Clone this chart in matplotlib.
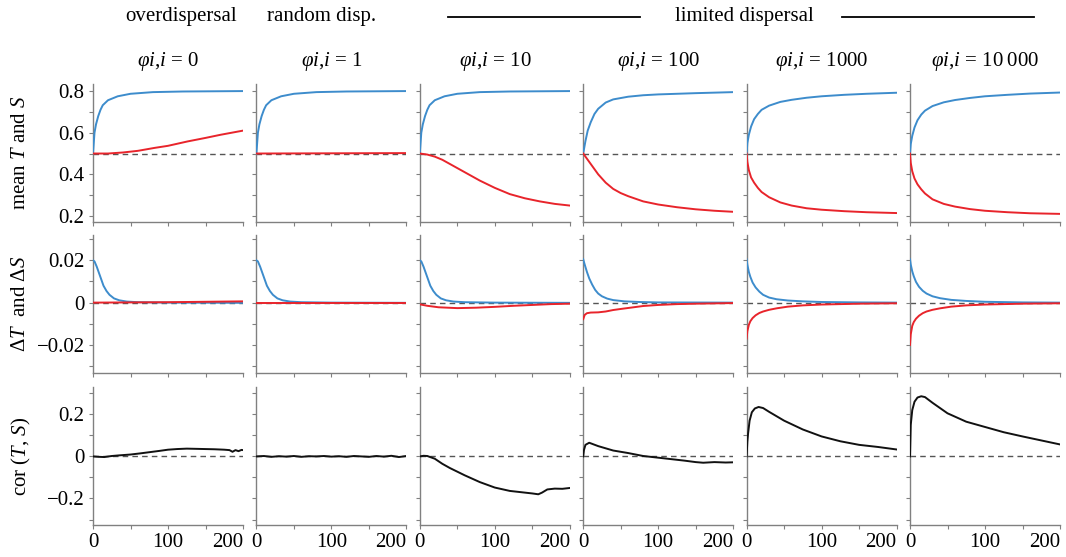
import matplotlib
matplotlib.use("Agg")
import matplotlib.pyplot as plt
from matplotlib.lines import Line2D
import numpy as np

plt.rcParams['font.family'] = ['Liberation Serif', 'DejaVu Serif']
plt.rcParams['mathtext.fontset'] = 'custom'
plt.rcParams['mathtext.rm'] = 'Liberation Serif'
plt.rcParams['mathtext.it'] = 'Liberation Serif:italic'
plt.rcParams['mathtext.bf'] = 'Liberation Serif:bold'

# ---------------- data ----------------
group_labels = ["overdispersal", "random disp.", "limited dispersal"]
phi_values = ["0", "1", "10", "100", "1000", "10\u2009000"]
row_labels = [r"mean $T$ and $S$", r"$\Delta T$  and $\Delta S$", r"cor ($T$, $S$)"]

# Row 1: mean T (blue) and mean S (red)
tT_fast = [0, 2, 4, 7, 10, 13, 20, 33, 50, 80, 120, 200]
T_fast = [0.5, 0.6, 0.64, 0.68, 0.71, 0.732, 0.756, 0.775, 0.787, 0.795, 0.798, 0.8]
tT_100 = [0, 3, 6, 10, 15, 20, 30, 40, 60, 80, 100, 150, 200]
T_100 = [0.5, 0.56, 0.61, 0.65, 0.69, 0.715, 0.745, 0.76, 0.773, 0.78, 0.784, 0.79, 0.795]
tT_slow = [0, 1, 3, 6, 10, 15, 20, 30, 45, 60, 80, 100, 130, 160, 200]
T_1000 = [0.5, 0.55, 0.59, 0.63, 0.665, 0.69, 0.71, 0.73, 0.748, 0.758, 0.768, 0.775, 0.782, 0.787, 0.792]
T_10000 = [0.5, 0.545, 0.585, 0.625, 0.66, 0.687, 0.706, 0.728, 0.746, 0.757, 0.767, 0.775, 0.782, 0.788, 0.793]

tS_0 = [0, 20, 40, 60, 82, 100, 126, 150, 170, 200]
S_0 = [0.5, 0.5, 0.505, 0.513, 0.527, 0.537, 0.558, 0.575, 0.59, 0.61]
tS_1 = [0, 100, 200]
S_1 = [0.5, 0.501, 0.502]
tS_10 = [0, 10, 20, 30, 40, 60, 80, 100, 120, 140, 160, 180, 200]
S_10 = [0.5, 0.495, 0.485, 0.47, 0.45, 0.41, 0.37, 0.335, 0.305, 0.285, 0.27, 0.258, 0.25]
tS_100 = [0, 5, 10, 15, 20, 30, 40, 50, 60, 80, 100, 125, 150, 175, 200]
S_100 = [0.5, 0.475, 0.45, 0.425, 0.40, 0.36, 0.33, 0.31, 0.295, 0.27, 0.255, 0.242, 0.232, 0.225, 0.22]
tS_slow = [0, 1, 3, 6, 10, 15, 20, 30, 45, 60, 80, 100, 130, 160, 200]
S_1000 = [0.5, 0.46, 0.42, 0.385, 0.36, 0.335, 0.315, 0.29, 0.265, 0.25, 0.237, 0.23, 0.223, 0.218, 0.214]
S_10000 = [0.5, 0.455, 0.415, 0.38, 0.352, 0.328, 0.308, 0.28, 0.258, 0.245, 0.233, 0.225, 0.218, 0.213, 0.21]

# Row 2: Delta T (blue) and Delta S (red)
tdT_a = [0, 2, 5, 8, 11, 14, 18, 22, 28, 35, 45, 60, 100, 200]
dT_a = [0.020, 0.0195, 0.017, 0.014, 0.011, 0.008, 0.0055, 0.0037, 0.002, 0.0011, 0.0005, 0.0002, 0.0, -0.0001]
tdT_100 = [0, 2, 5, 8, 12, 16, 20, 25, 32, 40, 55, 75, 100, 200]
dT_100 = [0.0205, 0.018, 0.0145, 0.0115, 0.0085, 0.006, 0.0043, 0.003, 0.0019, 0.0012, 0.0006, 0.0003, 0.0001, 0.0]
tdT_slow = [0, 1, 3, 5, 8, 12, 17, 22, 30, 40, 55, 75, 100, 150, 200]
dT_1000 = [0.0205, 0.018, 0.0145, 0.0122, 0.0095, 0.0072, 0.0052, 0.0037, 0.0024, 0.0016, 0.001, 0.0006, 0.0003, 0.0001, 0.0]
dT_10000 = [0.0205, 0.018, 0.0148, 0.0125, 0.0098, 0.0075, 0.0056, 0.0043, 0.003, 0.0021, 0.0013, 0.0008, 0.0004, 0.0001, 0.0]

tdS_0 = [0, 100, 200]
dS_0 = [0.0, 0.0002, 0.0006]
tdS_1 = [0, 100, 200]
dS_1 = [0.0, 0.0, 0.0]
tdS_10 = [0, 10, 25, 50, 75, 100, 125, 150, 175, 200]
dS_10 = [-0.0008, -0.0015, -0.0022, -0.0026, -0.0024, -0.002, -0.0015, -0.0011, -0.0007, -0.0005]
tdS_100 = [0, 2, 5, 10, 20, 30, 40, 50, 65, 80, 100, 125, 150, 200]
dS_100 = [-0.0078, -0.0058, -0.005, -0.0047, -0.0046, -0.0042, -0.0035, -0.003, -0.0023, -0.0016, -0.0011, -0.0007, -0.0005, -0.0002]
tdS_slow = [0, 1, 3, 5, 8, 12, 17, 22, 30, 40, 55, 75, 100, 150, 200]
dS_1000 = [-0.017, -0.0135, -0.0105, -0.0088, -0.0073, -0.006, -0.0049, -0.0042, -0.0034, -0.0027, -0.0019, -0.0013, -0.0009, -0.0005, -0.0003]
dS_10000 = [-0.020, -0.015, -0.011, -0.0092, -0.0076, -0.0062, -0.005, -0.0042, -0.0034, -0.0027, -0.0019, -0.0013, -0.0009, -0.0005, -0.0003]

# Row 3: correlation of T and S
tc_0 = [0, 8, 15, 25, 35, 50, 62, 75, 88, 100, 112, 125, 138, 150, 162, 175, 182, 186, 190, 194, 198, 200]
c_0 = [0.0, -0.002, -0.003, 0.002, 0.005, 0.009, 0.014, 0.02, 0.026, 0.032, 0.035, 0.037, 0.036, 0.035, 0.034, 0.032, 0.03, 0.022, 0.03, 0.025, 0.031, 0.03]
tc_1 = [0, 10, 20, 30, 40, 50, 60, 70, 80, 90, 100, 110, 120, 130, 140, 150, 160, 170, 180, 190, 200]
c_1 = [0.0, 0.002, -0.002, 0.001, -0.001, 0.002, -0.002, 0.001, 0.0, 0.002, -0.001, 0.001, -0.002, 0.002, 0.0, -0.002, 0.002, -0.001, 0.003, -0.003, 0.002]
tc_10 = [0, 5, 10, 20, 30, 40, 60, 80, 100, 120, 140, 150, 158, 163, 170, 180, 190, 200]
c_10 = [0.0, 0.003, 0.002, -0.011, -0.035, -0.055, -0.09, -0.122, -0.148, -0.164, -0.172, -0.176, -0.18, -0.172, -0.157, -0.153, -0.154, -0.15]
tc_100 = [0, 1, 3, 8, 20, 40, 60, 80, 100, 120, 135, 150, 160, 175, 190, 200]
c_100 = [0.0, 0.03, 0.055, 0.065, 0.049, 0.028, 0.016, 0.002, -0.006, -0.014, -0.02, -0.027, -0.03, -0.027, -0.029, -0.028]
tc_1000 = [0, 1, 2, 4, 7, 11, 16, 22, 30, 50, 75, 100, 125, 150, 175, 200]
c_1000 = [0.0, 0.07, 0.11, 0.17, 0.21, 0.228, 0.235, 0.23, 0.212, 0.17, 0.128, 0.095, 0.072, 0.055, 0.045, 0.033]
tc_10000 = [0, 1, 3, 6, 10, 15, 20, 30, 50, 75, 100, 125, 150, 175, 200]
c_10000 = [0.0, 0.15, 0.22, 0.26, 0.28, 0.286, 0.282, 0.255, 0.205, 0.165, 0.14, 0.115, 0.095, 0.076, 0.057]

T_series = [(tT_fast, T_fast), (tT_fast, T_fast), (tT_fast, T_fast),
            (tT_100, T_100), (tT_slow, T_1000), (tT_slow, T_10000)]
S_series = [(tS_0, S_0), (tS_1, S_1), (tS_10, S_10),
            (tS_100, S_100), (tS_slow, S_1000), (tS_slow, S_10000)]
dT_series = [(tdT_a, dT_a), (tdT_a, dT_a), (tdT_a, dT_a),
             (tdT_100, dT_100), (tdT_slow, dT_1000), (tdT_slow, dT_10000)]
dS_series = [(tdS_0, dS_0), (tdS_1, dS_1), (tdS_10, dS_10),
             (tdS_100, dS_100), (tdS_slow, dS_1000), (tdS_slow, dS_10000)]
cor_series = [(tc_0, c_0), (tc_1, c_1), (tc_10, c_10),
              (tc_100, c_100), (tc_1000, c_1000), (tc_10000, c_10000)]

# ---------------- style ----------------
BLUE = "#3d8ccc"
RED = "#e8242b"
SPINE = "#808080"
W, H = 1066, 557
fig = plt.figure(figsize=(W / 100, H / 100), dpi=100)

col_left = [93 + i * 163.4 for i in range(6)]
col_w = 150
row_top = [84, 235, 387]
row_h = 138

ylims = [(0.171, 0.834), (-0.0333, 0.032), (-0.326, 0.33)]
yticks = [np.round(np.arange(0.2, 0.81, 0.1), 2),
          np.round(np.arange(-0.03, 0.031, 0.01), 3),
          np.round(np.arange(-0.3, 0.31, 0.1), 2)]
ylabels_show = [{0.2: "0.2", 0.4: "0.4", 0.6: "0.6", 0.8: "0.8"},
                {-0.02: "\u22120.02", 0.0: "0", 0.02: "0.02"},
                {-0.2: "\u22120.2", 0.0: "0", 0.2: "0.2"}]
ref_level = [0.5, 0.0, 0.0]
FS = 15

for r in range(3):
    for c in range(6):
        ax = fig.add_axes([col_left[c] / W, 1 - (row_top[r] + row_h) / H, col_w / W, row_h / H])
        ax.set_xlim(0, 200)
        ax.set_ylim(*ylims[r])
        for s in ["top", "right"]:
            ax.spines[s].set_visible(False)
        for s in ["left", "bottom"]:
            ax.spines[s].set_color(SPINE)
            ax.spines[s].set_linewidth(1.0)
        ax.axhline(ref_level[r], color="#555555", lw=1.0, ls=(0, (4, 3)), zorder=1)
        if r == 0:
            ax.plot(*T_series[c], color=BLUE, lw=1.4, zorder=3)
            ax.plot(*S_series[c], color=RED, lw=1.4, zorder=3)
        elif r == 1:
            ax.plot(*dT_series[c], color=BLUE, lw=1.4, zorder=3)
            ax.plot(*dS_series[c], color=RED, lw=1.4, zorder=3)
        else:
            ax.plot(*cor_series[c], color="#111111", lw=1.4, zorder=3)
        ax.set_xticks([0, 50, 100, 150, 200])
        if r == 2:
            xl = ax.set_xticklabels(["0", "", "100", "", "200"])
            xl[-1].set_horizontalalignment("right")
        else:
            ax.set_xticklabels([])
        ax.set_yticks(yticks[r])
        if c == 0:
            labs = []
            for v in yticks[r]:
                key = round(float(v), 3)
                lab = ""
                for k, s in ylabels_show[r].items():
                    if abs(k - key) < 1e-9:
                        lab = s
                labs.append(lab)
            ax.set_yticklabels(labs)
        else:
            ax.set_yticklabels([])
        ax.tick_params(direction="out", length=3, width=0.8, color=SPINE,
                       labelsize=FS, pad=3)
        if r == 0:
            ax.set_title(r"$\varphi i{,}i$ = " + phi_values[c], fontsize=FS, pad=13)

# row labels
row_centers = [84 + row_h / 2, 235 + row_h / 2, 387 + row_h / 2]
for r in range(3):
    fig.text(21 / W, 1 - row_centers[r] / H, row_labels[r], rotation=90,
             ha="center", va="center", fontsize=FS)

# group headers
y_head = 1 - 17 / H
fig.text(181 / W, y_head, group_labels[0], ha="center", va="center", fontsize=FS)
fig.text(322 / W, y_head, group_labels[1], ha="center", va="center", fontsize=FS)
fig.text(744 / W, y_head, group_labels[2], ha="center", va="center", fontsize=FS)
fig.add_artist(Line2D([448 / W, 640 / W], [y_head, y_head], color="black", lw=1.3))
fig.add_artist(Line2D([842 / W, 1034 / W], [y_head, y_head], color="black", lw=1.3))

fig.savefig("out.png", dpi=100)
